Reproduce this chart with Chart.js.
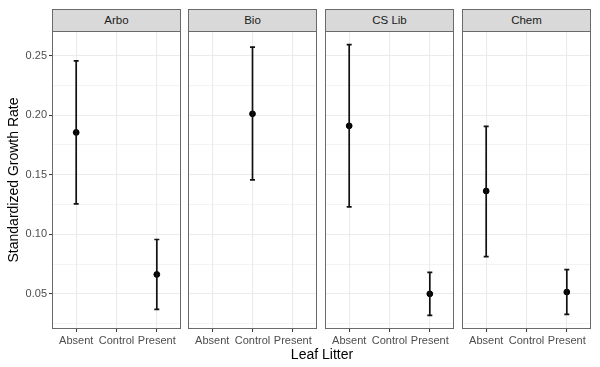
<!DOCTYPE html>
<html>
<head>
<meta charset="utf-8">
<script src="https://cdn.jsdelivr.net/npm/chart.js@4"></script>
<style>
  body { margin: 0; background: #fff; }
  #wrap { position: relative; width: 600px; height: 367px; overflow: hidden; font-family: "Liberation Sans", Arial, sans-serif; }
  canvas { position: absolute; }
  .strip {
    position: absolute; top: 9px; height: 22px; box-sizing: border-box;
    background: #d9d9d9; border: 1px solid #6a6a6a; border-bottom: none;
    font-size: 11.5px; color: #1a1a1a; text-align: center; line-height: 21px;
  }
  #xtitle { position: absolute; top: 346px; left: 52px; width: 540px; text-align: center; font-size: 14px; color: #000; }
</style>
</head>
<body>
<div id="wrap"></div>
<script>
// facets and categories
const facets = ['Arbo', 'Bio', 'CS Lib', 'Chem'];
const categories = ['Absent', 'Control', 'Present'];

// per facet: category, mean, lower, upper
const arboCat = ['Absent', 'Present'];
const arboMean = [0.1855, 0.0663];
const arboLow = [0.1255, 0.0369];
const arboHigh = [0.2455, 0.0956];

const bioCat = ['Control'];
const bioMean = [0.2011];
const bioLow = [0.1456];
const bioHigh = [0.2570];

const cslibCat = ['Absent', 'Present'];
const cslibMean = [0.1910, 0.0500];
const cslibLow = [0.1230, 0.0319];
const cslibHigh = [0.2592, 0.0680];

const chemCat = ['Absent', 'Present'];
const chemMean = [0.1363, 0.0515];
const chemLow = [0.0813, 0.0328];
const chemHigh = [0.1905, 0.0704];

const yMajorTicks = [0.05, 0.10, 0.15, 0.20, 0.25];
const yMinorTicks = [0.025, 0.075, 0.125, 0.175, 0.225];

const facetData = [
  { cat: arboCat, mean: arboMean, low: arboLow, high: arboHigh },
  { cat: bioCat, mean: bioMean, low: bioLow, high: bioHigh },
  { cat: cslibCat, mean: cslibMean, low: cslibLow, high: cslibHigh },
  { cat: chemCat, mean: chemMean, low: chemLow, high: chemHigh }
];

// panel geometry (pixels)
const panelLeft = [52, 188, 325, 462];
const panelWidth = 129;
const areaTop = 31, areaBottom = 329;

const wrap = document.getElementById('wrap');

const isMajor = v => yMajorTicks.some(m => Math.abs(m - v) < 1e-9);
const noPad = s => { s.paddingTop = 0; s.paddingBottom = 0; s.paddingLeft = 0; s.paddingRight = 0; };

// error bars + panel border
const errorBarPlugin = {
  id: 'errorBars',
  afterDatasetsDraw(chart) {
    const ctx = chart.ctx;
    const xs = chart.scales.x, ys = chart.scales.y;
    const d = chart.options.plugins.errorBars;
    ctx.save();
    ctx.strokeStyle = '#111';
    ctx.lineWidth = 1.7;
    d.cat.forEach((c, i) => {
      const xv = categories.indexOf(c) + 1;
      const x = xs.getPixelForValue(xv);
      const yl = ys.getPixelForValue(d.low[i]);
      const yh = ys.getPixelForValue(d.high[i]);
      ctx.beginPath();
      ctx.moveTo(x, yl); ctx.lineTo(x, yh);
      ctx.moveTo(x - 2.5, yl); ctx.lineTo(x + 2.5, yl);
      ctx.moveTo(x - 2.5, yh); ctx.lineTo(x + 2.5, yh);
      ctx.stroke();
    });
    ctx.restore();
  },
  afterDraw(chart) {
    const a = chart.chartArea, ctx = chart.ctx;
    ctx.save();
    ctx.strokeStyle = '#6a6a6a';
    ctx.lineWidth = 1;
    ctx.strokeRect(Math.round(a.left) + 0.5, Math.round(a.top) + 0.5,
      Math.round(a.right - a.left) - 1, Math.round(a.bottom - a.top) - 1);
    ctx.restore();
  }
};

facets.forEach((name, k) => {
  const d = facetData[k];
  const first = k === 0;
  const pl = panelLeft[k];

  const strip = document.createElement('div');
  strip.className = 'strip';
  strip.style.left = pl + 'px';
  strip.style.width = panelWidth + 'px';
  strip.textContent = name;
  wrap.appendChild(strip);

  const canvas = document.createElement('canvas');
  const cLeft = first ? 0 : pl;
  const cWidth = pl + panelWidth - cLeft;
  const xAxisH = 38;
  const cHeight = (areaBottom - areaTop) + xAxisH;
  canvas.style.left = cLeft + 'px';
  canvas.style.top = areaTop + 'px';
  canvas.style.width = cWidth + 'px';
  canvas.style.height = cHeight + 'px';
  canvas.width = cWidth;
  canvas.height = cHeight;
  wrap.appendChild(canvas);

  new Chart(canvas.getContext('2d'), {
    type: 'scatter',
    data: {
      datasets: [{
        data: d.cat.map((c, i) => ({ x: categories.indexOf(c) + 1, y: d.mean[i] })),
        backgroundColor: '#000',
        borderColor: '#000',
        pointRadius: 2.9,
        pointHoverRadius: 2.9
      }]
    },
    options: {
      responsive: false,
      animation: false,
      events: [],
      layout: { padding: 0, autoPadding: false },
      plugins: {
        legend: { display: false },
        tooltip: { enabled: false },
        errorBars: d
      },
      scales: {
        x: {
          type: 'linear',
          min: 0.4, max: 3.6,
          afterBuildTicks: s => { s.ticks = categories.map((c, i) => ({ value: i + 1 })); },
          afterFit: s => { s.height = xAxisH; noPad(s); },
          ticks: {
            callback: v => categories[v - 1],
            font: { size: 11, family: '"Liberation Sans", Arial, sans-serif' },
            color: '#4d4d4d',
            padding: 2,
            maxRotation: 0,
            autoSkip: false
          },
          grid: { color: '#ebebeb', lineWidth: 1.1, tickLength: 3, tickColor: '#333', tickWidth: 1 },
          border: { display: false }
        },
        y: {
          type: 'linear',
          min: 0.0205, max: 0.2706,
          afterBuildTicks: s => {
            s.ticks = yMinorTicks.concat(yMajorTicks).sort((a, b) => a - b).map(v => ({ value: v }));
          },
          afterFit: s => { s.width = first ? pl : 0; noPad(s); },
          ticks: {
            display: first,
            callback: v => isMajor(v) ? v.toFixed(2) : '',
            font: { size: 11, family: '"Liberation Sans", Arial, sans-serif' },
            color: '#4d4d4d',
            padding: 2
          },
          grid: {
            color: '#ebebeb',
            lineWidth: c => isMajor(c.tick.value) ? 1.1 : 0.6,
            drawTicks: first,
            tickLength: 3,
            tickColor: c => isMajor(c.tick.value) ? '#333' : 'rgba(0,0,0,0)',
            tickWidth: 1
          },
          border: { display: false },
          title: {
            display: first,
            text: 'Standardized Growth Rate',
            font: { size: 14, family: '"Liberation Sans", Arial, sans-serif' },
            color: '#000',
            padding: { top: 6, bottom: 0 }
          }
        }
      }
    },
    plugins: [errorBarPlugin]
  });
});

const xt = document.createElement('div');
xt.id = 'xtitle';
xt.textContent = 'Leaf Litter';
wrap.appendChild(xt);
</script>
</body>
</html>
